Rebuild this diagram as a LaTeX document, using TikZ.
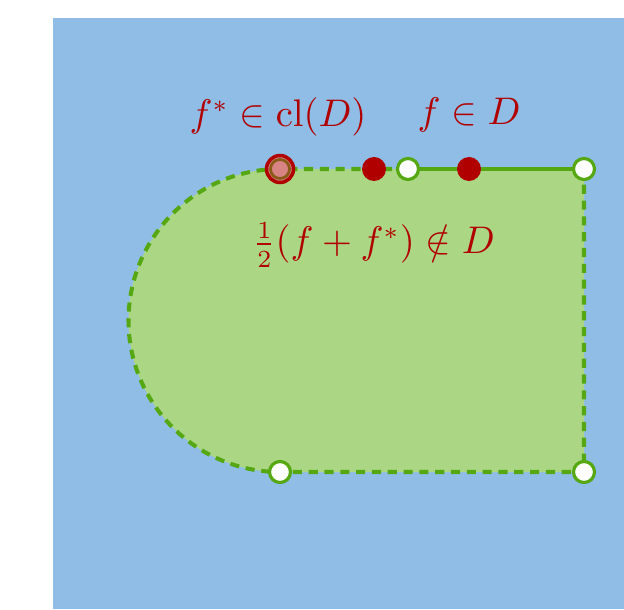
\documentclass[tikz,border=0pt]{standalone}
\usepackage{amsmath}
\usepackage{amssymb}
\usetikzlibrary{calc}

\definecolor{skyblue}{HTML}{8FBDE6}
\definecolor{leafgreen}{HTML}{ABD684}
\definecolor{edgegreen}{HTML}{55A812}
\definecolor{dotred}{HTML}{B00000}
\definecolor{dotpink}{HTML}{D98484}
\definecolor{dotbrown}{HTML}{8A5A18}

\tikzset{
  edge/.style={edgegreen, line width=1.15pt},
  dashedge/.style={edge, dash pattern=on 2.6pt off 1.9pt},
  opendot/.style={circle, draw=edgegreen, line width=0.9pt, fill=white, minimum size=0.21cm, inner sep=0pt},
  reddot/.style={circle, fill=dotred, minimum size=0.24cm, inner sep=0pt},
  limitdot/.style={circle, draw=dotred, line width=1pt, fill=dotpink, minimum size=0.27cm, inner sep=0pt},
  label/.style={text=dotred, font=\fontsize{10.6}{12}\selectfont}
}

\begin{document}
\begin{tikzpicture}
    % Fix the page size and draw the background
    \useasboundingbox (0,0) rectangle (6.24,6.09);
    \fill[skyblue] (0.53,0) rectangle (6.24,5.91);

    % Corners of the set
    \coordinate (tl) at (2.80,4.40);
    \coordinate (bl) at (2.80,1.37);
    \coordinate (tr) at (5.84,4.40);
    \coordinate (br) at (5.84,1.37);
    \coordinate (gap) at (4.08,4.40);

    % Fill the set D
    \fill[leafgreen] (tl) arc (90:270:1.515) -- (br) -- (tr) -- cycle;

    % Draw the boundary
    \draw[dashedge] (gap) -- (tl) arc (90:270:1.515) -- (br) -- (tr);
    \draw[edge] (gap) -- (tr);

    % Draw the points
    \node[reddot] (fmid) at (3.74,4.40) {};
    \node[reddot] (f) at (4.69,4.40) {};
    \node[opendot] (gapdot) at (gap) {};
    \node[opendot] (trdot) at (tr) {};
    \node[opendot] (brdot) at (br) {};
    \node[opendot] (bldot) at (bl) {};
    \node[limitdot] (fstar) at (tl) {};
    \draw[dotbrown, line width=0.8pt] (fstar.center) circle (0.095);

    % Add the labels
    \node[label] (fstarlabel) at (2.78,4.92) {$f^* \in \mathrm{cl}(D)$};
    \node[label] (flabel) at (4.69,4.94) {$f \in D$};
    \node[label] (midlabel) at (3.74,3.64) {$\frac{1}{2}(f + f^*) \notin D$};
\end{tikzpicture}
\end{document}
